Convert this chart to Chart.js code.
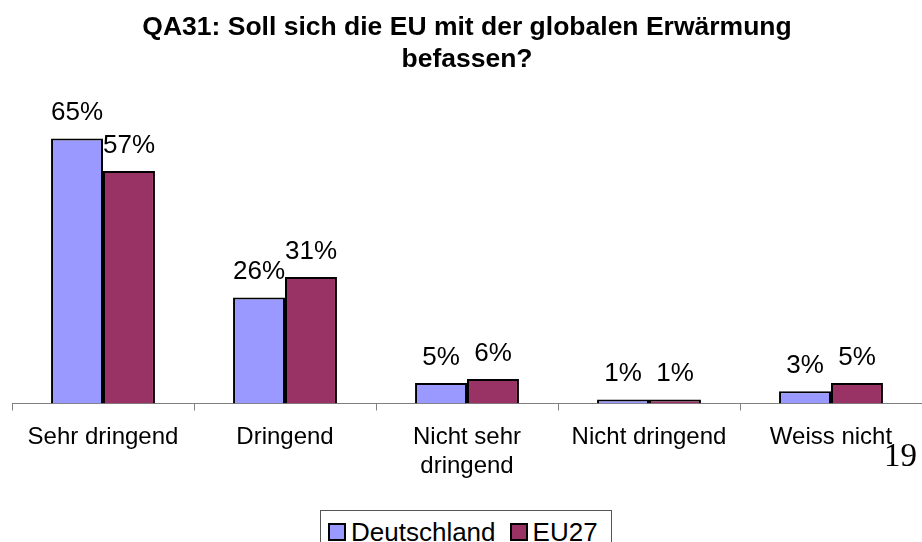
<!DOCTYPE html>
<html lang="de">
<head>
  <meta charset="UTF-8" />
  <title>QA31 - globale Erwärmung</title>
  <script src="https://cdn.jsdelivr.net/npm/chart.js"></script>
  <style>
    html, body { margin: 0; padding: 0; background: #fff; overflow: hidden; }
    body { width: 922px; height: 542px; position: relative; font-family: Arial, "Liberation Sans", sans-serif; }
    #chart { position: absolute; left: 0; top: 0; }
    .legend {
      position: absolute; left: 320px; top: 510px; width: 292px; height: 44px;
      border: 1px solid #555; box-sizing: border-box;
      display: flex; align-items: center; padding-left: 7px;
      font-size: 26px; color: #000;
    }
    .legend span.box {
      display: inline-block; width: 14px; height: 14px; border: 2px solid #000;
      margin-right: 5px;
    }
    .legend .item { display: flex; align-items: center; margin-right: 14px; }
    .pageno {
      position: absolute; left: 884px; top: 439px;
      font-family: "Liberation Serif", "Times New Roman", serif; font-size: 33px; line-height: 1;
    }
  </style>
</head>
<body>
  <canvas id="chart" width="922" height="500"></canvas>
  <div class="legend" id="legend"></div>
  <div class="pageno">19</div>

  <script>
    // data
    const categories = ['Sehr dringend', 'Dringend', ['Nicht sehr', 'dringend'], 'Nicht dringend', 'Weiss nicht'];
    const seriesNames = ['Deutschland', 'EU27'];
    const deutschland = [65, 26, 5, 1, 3];
    const eu27 = [57, 31, 6, 1, 5];
    const colors = ['#9999FF', '#993366'];

    const FONT = 'Arial, "Liberation Sans", sans-serif';

    // percent labels above the bars
    const valueLabels = {
      id: 'valueLabels',
      afterDatasetsDraw(chart) {
        const ctx = chart.ctx;
        ctx.save();
        ctx.font = '26px ' + FONT;
        ctx.fillStyle = '#000';
        ctx.textAlign = 'center';
        ctx.textBaseline = 'alphabetic';
        chart.data.datasets.forEach((ds, i) => {
          chart.getDatasetMeta(i).data.forEach((bar, j) => {
            ctx.fillText(ds.data[j] + '%', bar.x, bar.y - 18);
          });
        });
        ctx.restore();
      }
    };

    new Chart(document.getElementById('chart').getContext('2d'), {
      type: 'bar',
      data: {
        labels: categories,
        datasets: [
          { label: seriesNames[0], data: deutschland, backgroundColor: colors[0], borderColor: '#000', borderWidth: 2 },
          { label: seriesNames[1], data: eu27, backgroundColor: colors[1], borderColor: '#000', borderWidth: 2 }
        ]
      },
      options: {
        responsive: false,
        animation: false,
        layout: { padding: { left: 12, right: 0, top: 0, bottom: 0 } },
        datasets: { bar: { barPercentage: 1, categoryPercentage: 0.571 } },
        plugins: {
          legend: { display: false },
          tooltip: { enabled: false },
          title: {
            display: true,
            text: ['QA31: Soll sich die EU mit der globalen Erwärmung', 'befassen?'],
            color: '#000',
            font: { family: FONT, size: 26.5, weight: 'bold', lineHeight: 1.2 },
            padding: { top: 12, bottom: 42.4 }
          }
        },
        scales: {
          x: {
            grid: { offset: true, drawOnChartArea: false, drawTicks: true, tickLength: 7, color: '#808080' },
            border: { color: '#808080', width: 1 },
            ticks: { color: '#000', font: { family: FONT, size: 24, lineHeight: 1.22 }, padding: 12, maxRotation: 0, autoSkip: false },
            afterFit(scale) { scale.height = 96.5; }
          },
          y: { display: false, min: 0, max: 70 }
        }
      },
      plugins: [valueLabels]
    });

    // legend from the series arrays
    const legend = document.getElementById('legend');
    seriesNames.forEach((name, i) => {
      const item = document.createElement('div');
      item.className = 'item';
      item.innerHTML = '<span class="box" style="background:' + colors[i] + '"></span>' + name;
      legend.appendChild(item);
    });
  </script>
</body>
</html>
